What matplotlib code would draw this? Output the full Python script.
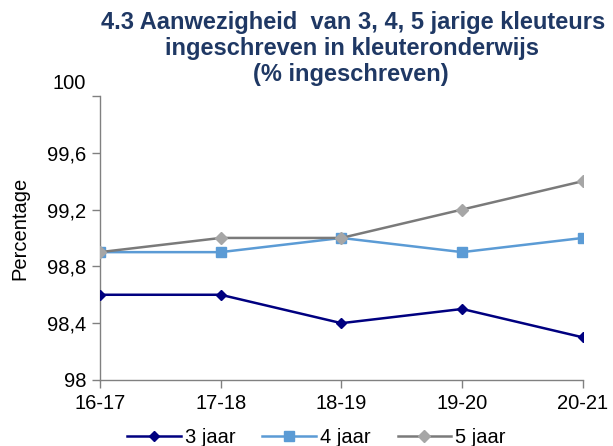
import matplotlib
matplotlib.use("Agg")
import matplotlib.pyplot as plt
import matplotlib.transforms as mtransforms

plt.rcParams["font.family"] = ["Liberation Sans", "DejaVu Sans"]

# Data
years = ["16-17", "17-18", "18-19", "19-20", "20-21"]
jaar_3 = [98.6, 98.6, 98.4, 98.5, 98.3]
jaar_4 = [98.9, 98.9, 99.0, 98.9, 99.0]
jaar_5 = [98.9, 99.0, 99.0, 99.2, 99.4]
y_ticks = [98.0, 98.4, 98.8, 99.2, 99.6, 100.0]
y_tick_labels = ["98", "98,4", "98,8", "99,2", "99,6", "100"]

fig = plt.figure(figsize=(6.13, 4.46), dpi=100)
ax = fig.add_axes([0.163, 0.148, 0.788, 0.637])

x = range(len(years))
ax.plot(x, jaar_3, color="#000080", lw=1.8, marker="D", ms=5.5,
        mfc="#000080", mec="#000080", label="3 jaar", zorder=3)
ax.plot(x, jaar_4, color="#5B9BD5", lw=1.8, marker="s", ms=6.5,
        mfc="#5B9BD5", mec="#5B9BD5", label="4 jaar", zorder=3)
ax.plot(x, jaar_5, color="#7A7A7A", lw=1.8, marker="D", ms=6,
        mfc="#A6A6A6", mec="#A6A6A6", label="5 jaar", zorder=3)

ax.set_xlim(0, len(years) - 1)
ax.set_ylim(98, 100)
ax.set_xticks(list(x))
ax.set_xticklabels(years, fontsize=14.5)
ax.set_yticks(y_ticks)
ax.set_yticklabels(y_tick_labels, fontsize=14.5)
ax.tick_params(axis="both", direction="out", length=6, width=1,
               color="#808080", pad=4)

# the "100" label sits a bit above the top of the axis in the original
top_label = ax.get_yticklabels()[-1]
top_label.set_transform(top_label.get_transform() +
                        mtransforms.ScaledTranslation(0, 0.14, fig.dpi_scale_trans))

for side in ["top", "right"]:
    ax.spines[side].set_visible(False)
for side in ["left", "bottom"]:
    ax.spines[side].set_color("#808080")
    ax.spines[side].set_linewidth(1)

fig.text(0.033, 0.489, "Percentage", rotation=90, fontsize=14.5,
         ha="center", va="center")

title_color = "#1F3864"
title_kw = dict(ha="center", va="center", fontsize=17, fontweight="bold",
                color=title_color)
fig.text(0.576, 0.950, "4.3 Aanwezigheid  van 3, 4, 5 jarige kleuteurs", **title_kw)
fig.text(0.574, 0.892, "ingeschreven in kleuteronderwijs", **title_kw)
fig.text(0.572, 0.832, "(% ingeschreven)", **title_kw)

fig.legend(loc="center", bbox_to_anchor=(0.516, 0.02), ncol=3, frameon=False,
           fontsize=14.5, handlelength=2.65, handletextpad=0.2, columnspacing=1.35)

fig.savefig("out.png", dpi=100)
